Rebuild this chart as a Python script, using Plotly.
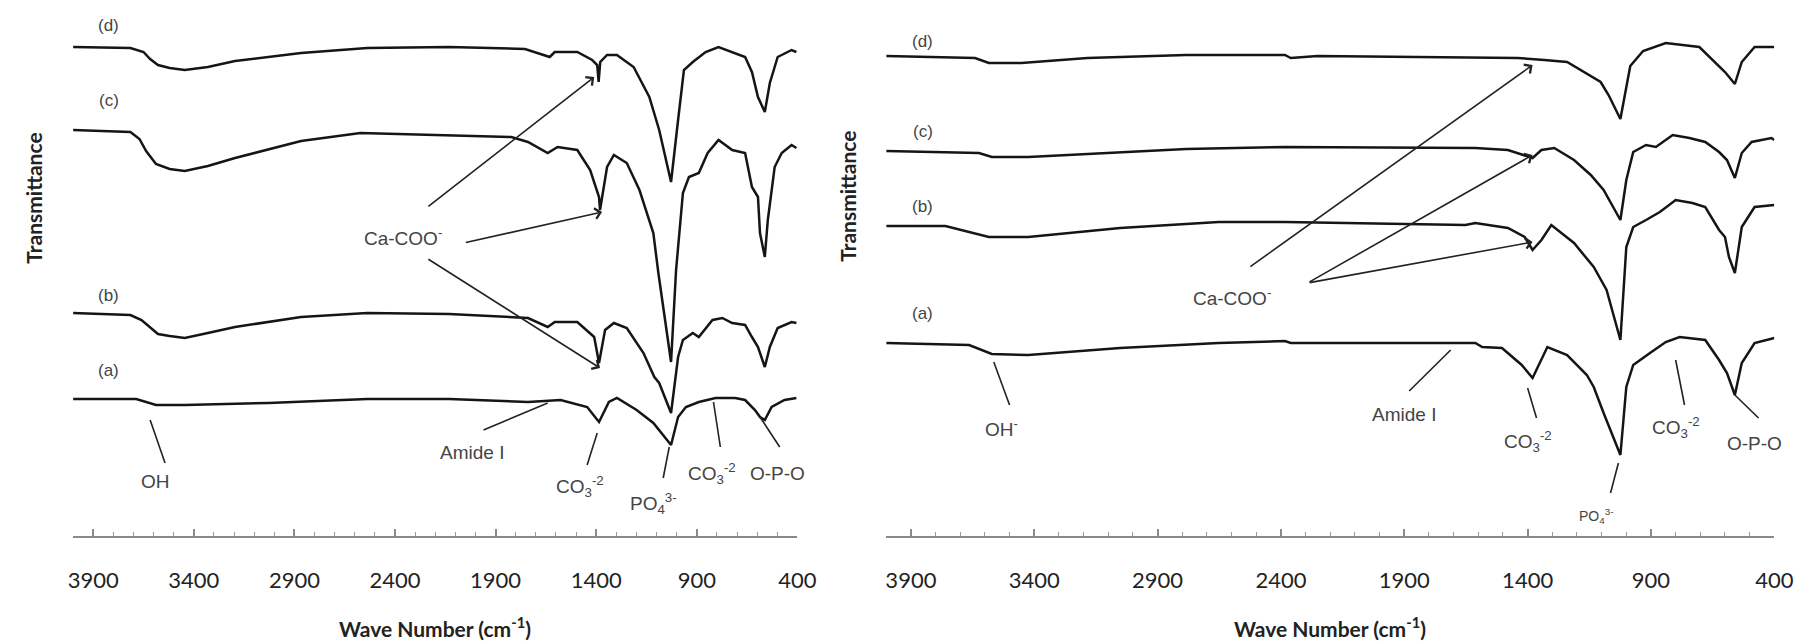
import plotly.graph_objects as go

# ---------------- data (wavenumber cm-1, relative transmittance) ----------------
# Left panel
L_d_wn = [4000, 3715, 3650, 3617, 3578, 3520, 3445, 3330, 3195, 2867, 2538, 2131, 1754, 1655, 1631, 1606, 1494, 1420, 1395, 1388, 1380, 1346, 1297, 1214, 1136, 1087, 1028, 993, 964, 920, 856, 792, 724, 660, 626, 596, 562, 537, 498, 429, 405]
L_d_T = [489, 488, 484, 477, 471, 468, 466, 469, 475, 483, 488, 489, 487, 481, 479, 484, 484, 476, 471, 454, 474, 481, 481, 469, 439, 406, 354, 416, 466, 474, 484, 489, 484, 479, 464, 439, 424, 453, 479, 486, 484]

L_c_wn = [4000, 3715, 3670, 3637, 3588, 3520, 3445, 3330, 3195, 2867, 2572, 2376, 2131, 1822, 1739, 1641, 1592, 1494, 1430, 1386, 1381, 1346, 1312, 1248, 1185, 1116, 1091, 1028, 1003, 969, 939, 890, 846, 792, 724, 660, 626, 596, 586, 562, 547, 513, 478, 429, 405]
L_c_T = [406, 404, 397, 385, 372, 367, 365, 370, 378, 395, 403, 402, 401, 399, 394, 383, 389, 386, 366, 339, 326, 369, 381, 373, 346, 303, 263, 174, 266, 343, 359, 363, 383, 396, 386, 383, 349, 339, 303, 279, 316, 369, 383, 391, 388]

L_b_wn = [4000, 3715, 3660, 3617, 3578, 3520, 3445, 3330, 3195, 2867, 2538, 2131, 1822, 1739, 1641, 1606, 1494, 1410, 1386, 1356, 1312, 1248, 1165, 1111, 1087, 1028, 993, 969, 920, 890, 822, 773, 724, 660, 626, 596, 562, 537, 498, 429, 405]
L_b_T = [223, 221, 216, 209, 202, 200, 198, 203, 209, 219, 223, 222, 219, 218, 209, 214, 214, 199, 173, 206, 213, 208, 183, 159, 153, 123, 179, 196, 203, 199, 216, 218, 213, 211, 199, 189, 169, 189, 208, 214, 213]

L_a_wn = [4000, 3686, 3588, 3445, 3029, 2538, 2131, 1739, 1577, 1445, 1386, 1337, 1297, 1199, 1116, 1087, 1028, 993, 954, 890, 807, 709, 660, 611, 586, 562, 528, 464, 405]
L_a_T = [137, 137, 131, 131, 133, 137, 137, 134, 136, 129, 114, 134, 138, 126, 113, 106, 91, 119, 129, 134, 138, 138, 136, 126, 119, 116, 129, 136, 138]

# Right panel
R_d_wn = [4000, 3640, 3584, 3452, 3184, 2784, 2384, 2360, 2252, 1652, 1440, 1332, 1240, 1104, 1072, 1024, 984, 932, 840, 704, 640, 600, 560, 532, 480, 400]
R_d_T = [480, 478, 473, 473, 478, 481, 481, 478, 480, 479, 478, 476, 474, 454, 441, 417, 470, 485, 493, 489, 474, 464, 452, 474, 489, 489]

R_c_wn = [4000, 3624, 3572, 3424, 3184, 2784, 2384, 1652, 1612, 1480, 1412, 1380, 1344, 1292, 1212, 1144, 1092, 1024, 1000, 972, 920, 880, 812, 744, 680, 624, 592, 560, 532, 492, 412, 400]
R_c_T = [385, 383, 379, 379, 382, 387, 389, 388, 388, 386, 381, 378, 386, 388, 376, 361, 346, 316, 356, 384, 391, 389, 401, 398, 394, 384, 376, 358, 383, 394, 398, 396]

R_b_wn = [4000, 3760, 3584, 3424, 3052, 2652, 2384, 1652, 1612, 1480, 1412, 1380, 1344, 1304, 1212, 1132, 1080, 1024, 1000, 972, 920, 864, 800, 732, 680, 624, 600, 584, 560, 532, 480, 400]
R_b_T = [310, 310, 299, 299, 308, 314, 314, 311, 313, 308, 299, 286, 296, 311, 293, 269, 246, 196, 289, 309, 316, 324, 336, 333, 329, 306, 299, 279, 263, 309, 329, 331]

R_a_wn = [4000, 3664, 3572, 3424, 3052, 2652, 2384, 2360, 1720, 1612, 1584, 1504, 1424, 1380, 1320, 1240, 1160, 1132, 1092, 1024, 1000, 972, 904, 840, 784, 680, 624, 592, 560, 532, 480, 400]
R_a_T = [193, 191, 182, 181, 188, 193, 195, 193, 193, 193, 189, 188, 171, 158, 189, 181, 161, 149, 123, 81, 149, 171, 183, 194, 199, 196, 176, 163, 141, 173, 193, 198]

tick_values = [3900, 3400, 2900, 2400, 1900, 1400, 900, 400]
tick_labels = ["3900", "3400", "2900", "2400", "1900", "1400", "900", "400"]

# ---------------- figure ----------------
W, H = 1818, 642
PLOT_H = 536
fig = go.Figure()
line_style = dict(color="#151515", width=2.5)

for wn, t in [(L_d_wn, L_d_T), (L_c_wn, L_c_T), (L_b_wn, L_b_T), (L_a_wn, L_a_T)]:
    fig.add_trace(go.Scatter(x=wn, y=t, mode="lines", line=line_style, xaxis="x", yaxis="y", showlegend=False, hoverinfo="skip"))
for wn, t in [(R_d_wn, R_d_T), (R_c_wn, R_c_T), (R_b_wn, R_b_T), (R_a_wn, R_a_T)]:
    fig.add_trace(go.Scatter(x=wn, y=t, mode="lines", line=line_style, xaxis="x2", yaxis="y2", showlegend=False, hoverinfo="skip"))

tick_font = dict(family="Lato, Carlito, sans-serif", size=22, color="#222")
xaxis_common = dict(
    range=[4000, 400], showgrid=False, zeroline=False,
    showline=True, linecolor="#8a8a8a", linewidth=2,
    tickmode="array", tickvals=tick_values, ticktext=tick_labels,
    ticks="inside", ticklen=7, tickwidth=1.5, tickcolor="#8a8a8a",
    minor=dict(tickmode="linear", tick0=400, dtick=100, ticks="inside", ticklen=4, tickwidth=1.2, tickcolor="#9a9a9a"),
    tickfont=tick_font, ticklabelstandoff=24, fixedrange=True,
)
yaxis_common = dict(range=[0, PLOT_H], visible=False, showgrid=False, zeroline=False, fixedrange=True)

fig.update_layout(
    width=W, height=H,
    margin=dict(l=0, r=0, t=0, b=H - PLOT_H),
    paper_bgcolor="white", plot_bgcolor="white",
    xaxis=dict(domain=[69 / W, 803 / W], anchor="y", **xaxis_common),
    yaxis=dict(domain=[0, 1], anchor="x", **yaxis_common),
    xaxis2=dict(domain=[893 / W, 1793 / W], anchor="y2", **xaxis_common),
    yaxis2=dict(domain=[0, 1], anchor="x2", **yaxis_common),
)

txt_font = dict(family="Liberation Sans, Arial, sans-serif", size=19, color="#444")
lbl_font = dict(family="Liberation Sans, Arial, sans-serif", size=17, color="#444")
small_font = dict(family="Liberation Sans, Arial, sans-serif", size=14, color="#444")
title_font = dict(family="Lato, Carlito, sans-serif", size=21, color="#222")

annotations = []
shapes = []

def text(xr, yr, x, y, s, font=txt_font):
    annotations.append(dict(xref=xr, yref=yr, x=x, y=y, text=s, showarrow=False, font=font))

def pointer(xr, yr, x0, y0, x1, y1):
    shapes.append(dict(type="line", xref=xr, yref=yr, x0=x0, y0=y0, x1=x1, y1=y1,
                       line=dict(color="#222", width=1.6)))

def arrow(xr, yr, tx, ty, hx, hy):
    annotations.append(dict(xref=xr, yref=yr, axref=xr, ayref=yr, x=hx, y=hy, ax=tx, ay=ty,
                            text=" ", showarrow=True, arrowhead=4, arrowsize=1.3,
                            arrowwidth=1.6, arrowcolor="#222", font=dict(size=2)))

# Left panel labels
for s, v in [("(d)", 511), ("(c)", 436), ("(b)", 241), ("(a)", 166)]:
    text("x", "y", 3823, v, s, lbl_font)
text("x", "y", 3588, 55, "OH")
pointer("x", "y", 3617, 116, 3543, 73)
text("x", "y", 2018, 84, "Amide I")
pointer("x", "y", 1960, 106, 1641, 133)
text("x", "y", 2362, 299, "Ca-COO<sup>-</sup>")
arrow("x", "y", 2244, 328, 1410, 459)
arrow("x", "y", 2058, 293, 1371, 324)
arrow("x", "y", 2244, 278, 1381, 168)
text("x", "y", 1479, 50, "CO<sub>3</sub><sup>-2</sup>")
pointer("x", "y", 1395, 103, 1445, 71)
text("x", "y", 1116, 33, "PO<sub>4</sub><sup>3-</sup>")
pointer("x", "y", 1037, 89, 1067, 58)
text("x", "y", 822, 63, "CO<sub>3</sub><sup>-2</sup>")
pointer("x", "y", 817, 134, 783, 89)
text("x", "y", 498, 63, "O-P-O")
pointer("x", "y", 586, 119, 488, 89)

# Right panel labels
for s, v in [("(d)", 495), ("(c)", 405), ("(b)", 330), ("(a)", 223)]:
    text("x2", "y2", 3852, v, s, lbl_font)
text("x2", "y2", 3532, 108, "OH<sup>-</sup>")
pointer("x2", "y2", 3564, 174, 3500, 131)
text("x2", "y2", 2600, 239, "Ca-COO<sup>-</sup>")
arrow("x2", "y2", 2532, 268, 1380, 471)
arrow("x2", "y2", 2292, 253, 1380, 381)
arrow("x2", "y2", 2292, 253, 1380, 294)
text("x2", "y2", 1900, 122, "Amide I")
pointer("x2", "y2", 1880, 145, 1712, 186)
text("x2", "y2", 1400, 95, "CO<sub>3</sub><sup>-2</sup>")
pointer("x2", "y2", 1400, 148, 1364, 118)
text("x2", "y2", 1124, 20, "PO<sub>4</sub><sup>3-</sup>", small_font)
pointer("x2", "y2", 1032, 73, 1064, 43)
text("x2", "y2", 800, 109, "CO<sub>3</sub><sup>-2</sup>")
pointer("x2", "y2", 800, 176, 764, 131)
text("x2", "y2", 480, 93, "O-P-O")
pointer("x2", "y2", 560, 141, 464, 118)

# Axis titles (paper coords are relative to the plot area, 0..536 px tall)
for cx in [436, 1343]:
    annotations.append(dict(xref="paper", yref="paper", x=cx / W, y=(PLOT_H - 627) / PLOT_H,
                            text="<b>Wave Number (cm<sup>-1</sup>)</b>", showarrow=False, font=title_font,
                            xanchor="center", yanchor="middle"))
for cx, cy in [(28, 198), (853, 196)]:
    annotations.append(dict(xref="paper", yref="paper", x=cx / W, y=1 - cy / PLOT_H,
                            text="<b>Transmittance</b>", showarrow=False, font=title_font, textangle=-90,
                            xanchor="center", yanchor="middle"))

fig.update_layout(annotations=annotations, shapes=shapes)
fig.write_html("out.html")
